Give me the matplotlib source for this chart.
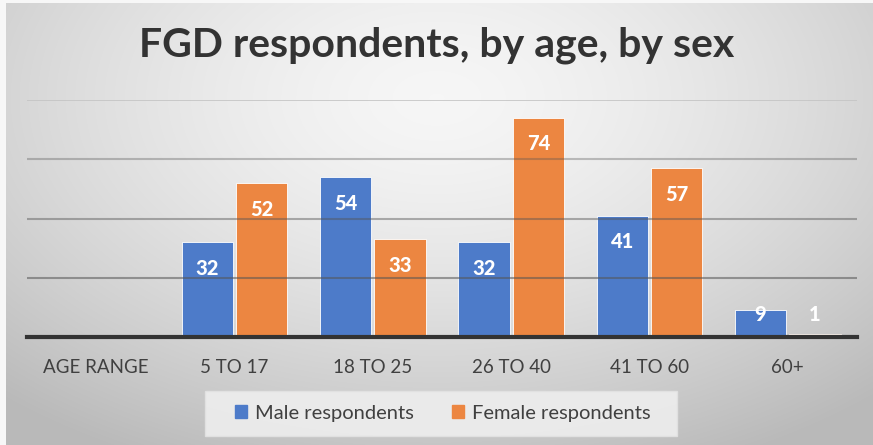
import numpy as np
import matplotlib
matplotlib.use("Agg")
import matplotlib.pyplot as plt
from matplotlib.patches import Patch, Rectangle

categories = ["AGE RANGE", "5 TO 17", "18 TO 25", "26 TO 40", "41 TO 60", "60+"]
male = [np.nan, 32, 54, 32, 41, 9]
female = [np.nan, 52, 33, 74, 57, 1]
series_names = ["Male respondents", "Female respondents"]
title = "FGD respondents, by age, by sex"

BLUE = "#4D7BC9"
ORANGE = "#EC8641"
TEXT = "#404040"

plt.rcParams['font.family'] = ['Lato', 'DejaVu Sans']

W, H = 873, 445
fig = plt.figure(figsize=(W / 100, H / 100), dpi=100)

# radial gradient background
bg = fig.add_axes([0, 0, 1, 1], zorder=-10)
yy, xx = np.mgrid[0:H, 0:W]
cx, cy = 0.5 * W, 0.22 * H
d = np.sqrt(((xx - cx) / (0.62 * W)) ** 2 + ((yy - cy) / (0.75 * H)) ** 2)
val = 0.965 - 0.18 * np.clip(d, 0, 1.2) ** 1.5
img = np.dstack([val, val, val])
img[:, :6] = 0.97
img[:3, :] = 0.97
bg.imshow(img, aspect="auto", extent=[0, 1, 0, 1], origin="upper")
bg.set_xlim(0, 1)
bg.set_ylim(0, 1)
bg.axis("off")

ax = fig.add_axes([27 / W, 1 - 337 / H, (857 - 27) / W, (337 - 100) / H])
ax.patch.set_alpha(0)
x = np.arange(len(categories))
bw = 0.37
gap = 0.012
ax.bar(x - bw / 2 - gap, male, bw, color=BLUE, edgecolor="white", linewidth=0.6, zorder=2)
ax.bar(x + bw / 2 + gap, female, bw, color=ORANGE, edgecolor="white", linewidth=0.6, zorder=2)

ax.set_xlim(-0.5, len(categories) - 0.5)
ax.set_ylim(0, 80)
ax.set_yticks([20, 40, 60, 80])
for yv, a in zip([20, 40, 60], [0.55, 0.45, 0.35]):
    ax.axhline(yv, color="#555555", lw=1.5, alpha=a, zorder=3)
ax.axhline(80, color="#c4c4c4", lw=1.2, zorder=1)
ax.axhline(0, color="#333333", lw=3, zorder=4, clip_on=False)

for s in ax.spines.values():
    s.set_visible(False)
ax.set_yticklabels([])
ax.tick_params(left=False, bottom=False)
ax.set_xticks(x)
ax.set_xticklabels(categories, fontsize=13.5, color=TEXT)
ax.tick_params(axis="x", pad=12)

for xs, vals in [(x - bw / 2 - gap, male), (x + bw / 2 + gap, female)]:
    for xi, v in zip(xs, vals):
        if np.isnan(v):
            continue
        ly = max(v - 8.8, 7.5)
        ax.text(xi, ly, f"{int(v)}", ha="center", va="center", color="white",
                fontsize=14.5, fontweight="black", zorder=5)

fig.text(0.5, 1 - 45 / H, title, ha="center", va="center", fontsize=29.5,
         fontweight="bold", color="#333333")

# legend box
fig.patches.append(Rectangle((205 / W, 1 - 436 / H), (677 - 205) / W, (436 - 391) / H,
                             transform=fig.transFigure, facecolor="#eeeeee",
                             edgecolor="#e2e2e2", alpha=0.9, zorder=1))
handles = [Patch(color=BLUE), Patch(color=ORANGE)]
leg = fig.legend(handles, series_names, loc="center", bbox_to_anchor=(443 / W, 1 - 413 / H),
                 ncol=2, frameon=False, fontsize=14.5, handlelength=0.6, handleheight=0.6,
                 handletextpad=0.4, columnspacing=1.9)
for t in leg.get_texts():
    t.set_color(TEXT)

fig.savefig("out.png", dpi=100)
